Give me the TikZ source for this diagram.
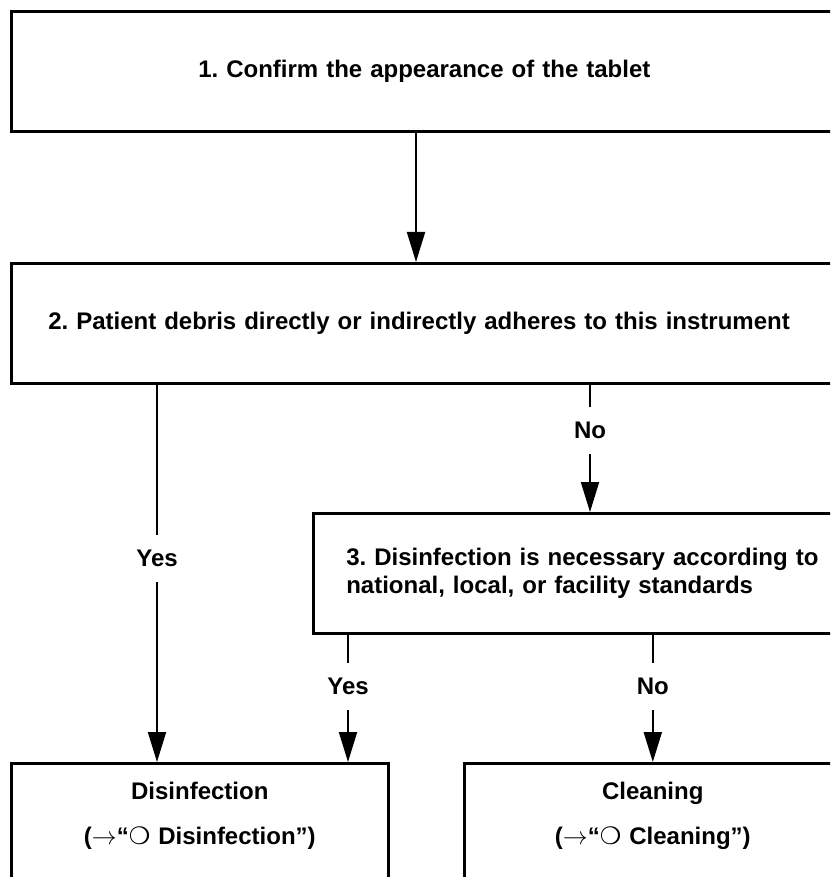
\documentclass[tikz,border=0pt]{standalone}
\usepackage{fontspec}
\setmainfont{Liberation Sans}
\newfontfamily\dingfont{DejaVu Sans}
\usetikzlibrary{arrows.meta}
\frenchspacing

\begin{document}
\begin{tikzpicture}[
		x=1pt,y=-1pt,
		box/.style={
			rectangle,
			draw,
			line width=2.6pt,
			anchor=north west,
			inner ysep=0pt,
			font=\bfseries\fontsize{24}{28}\selectfont
		},
		outcome/.style={
			box,
			align=center,
			inner xsep=0pt,
			text width=377pt,
			text height=36pt,
			text depth=140pt
		},
		arrow/.style={
			-{Triangle[length=30pt,width=18pt]},
			line width=2pt
		},
		tag/.style={
			fill=white,
			inner xsep=4pt,
			inner ysep=15pt,
			font=\bfseries\fontsize{24}{28}\selectfont
		}
		]
		
		\clip (0,0) rectangle (830,877);
		
		\node[box, minimum height=120pt, inner xsep=187pt, text width=500pt, align=left] (confirm)
		at (10,10) {1. Confirm the appearance of the tablet};
		
		\node[box, minimum height=120pt, inner xsep=37pt, text width=790pt, align=left] (debris)
		at (10,262) {2. Patient debris directly or indirectly adheres to this instrument};
		
		\node[box, minimum height=120pt, inner xsep=33pt, text width=480pt, align=left] (necessity)
		at (312,512) {3. Disinfection is necessary according to\\
			national, local, or facility standards};
		
		\node[outcome] (disinf)
		at (10,762) {Disinfection\\[17pt]
			($\rightarrow$``{\dingfont ❍} Disinfection'')};
		
		\node[outcome] (clean)
		at (463,762) {Cleaning\\[17pt]
			($\rightarrow$``{\dingfont ❍} Cleaning'')};
		
		\draw[arrow] ([xshift=406pt]confirm.south west) -- ([xshift=406pt]debris.north west);
		
		\draw[arrow] ([xshift=147pt]debris.south west)
		-- node[tag, pos=.46] {Yes}
		([xshift=147pt]disinf.north west);
		
		\draw[arrow] ([xshift=580pt]debris.south west)
		-- node[tag, pos=.36] {No}
		([xshift=278pt]necessity.north west);
		
		\draw[arrow] ([xshift=36pt]necessity.south west)
		-- node[tag, pos=.41] {Yes}
		([xshift=338pt]disinf.north west);
		
		\draw[arrow] (clean.north |- necessity.south)
		-- node[tag, pos=.41] {No}
		(clean.north);
		
	\end{tikzpicture}
\end{document}
